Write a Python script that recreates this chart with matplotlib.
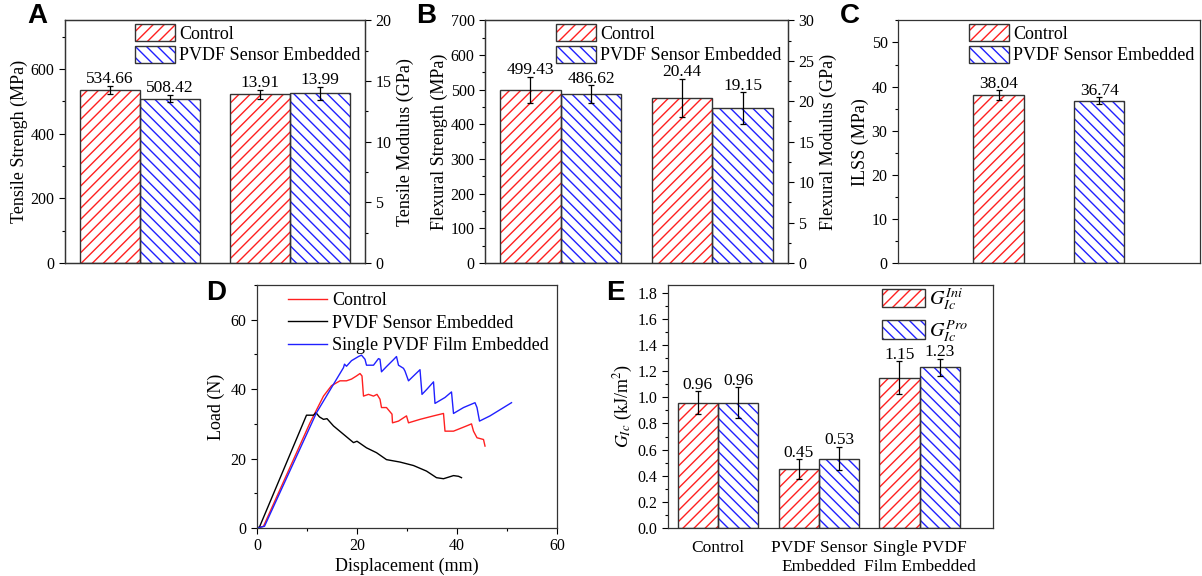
import numpy as np
import matplotlib
matplotlib.use("Agg")
import matplotlib.pyplot as plt
from matplotlib.patches import Patch
from matplotlib.legend_handler import HandlerTuple
from matplotlib.ticker import MultipleLocator

plt.rcParams['font.family'] = ['Liberation Serif', 'DejaVu Serif']
plt.rcParams['mathtext.fontset'] = 'stix'
plt.rcParams['hatch.linewidth'] = 1.0
plt.rcParams['xtick.direction'] = 'out'
plt.rcParams['ytick.direction'] = 'out'

RED = '#ff2020'
BLUE = '#2020ff'
EDGE = '#333333'

# ---- data ----
series_names = ['Control', 'PVDF Sensor Embedded']

tensile_strength = [534.66, 508.42]
tensile_strength_err = [12, 11]
tensile_modulus = [13.91, 13.99]
tensile_modulus_err = [0.35, 0.55]

flex_strength = [499.43, 486.62]
flex_strength_err = [38, 26]
flex_modulus = [20.44, 19.15]
flex_modulus_err = [2.35, 1.95]

ilss = [38.04, 36.74]
ilss_err = [1.1, 0.8]

red_x = [0, 1.3, 10.6, 13.3, 14.9, 16.6, 17.9, 18.9, 19.9, 20.6, 21.0, 21.3, 22.3, 23.3, 24.0,
         24.6, 24.9, 25.9, 27.0, 27.1, 28.3, 29.9, 30.3, 32.6, 35.3, 37.3, 37.6, 39.3, 41.9,
         42.9, 43.3, 44.0, 45.3, 45.6]
red_y = [0, 0.5, 30.3, 38, 41, 42.4, 42.4, 42.9, 43.8, 44.5, 43.8, 38, 38.5, 38, 38.5,
         37.1, 34.7, 34.7, 32.8, 30.3, 30.8, 32.3, 30.3, 31.3, 32.3, 33, 27.9, 27.9, 29.4,
         30, 27.9, 26, 25.5, 23.6]
black_x = [0, 0.5, 9.9, 11.3, 11.8, 12.5, 13.3, 14.0, 15.3, 17.3, 19.3, 20.0, 21.9, 23.9,
           25.9, 28.6, 31.3, 33.9, 35.9, 37.3, 39.3, 40.3, 40.9]
black_y = [0, 0.3, 32.5, 32.5, 33.2, 32, 31.3, 31.5, 29.4, 27, 24.6, 25, 23.1, 21.7,
           19.7, 19, 18, 16.4, 14.5, 14.2, 15.1, 14.9, 14.5]
blue_x = [0, 1.5, 11.9, 15.3, 17.3, 17.5, 17.9, 18.9, 20.3, 20.9, 21.6, 21.9, 23.3, 24.3,
          24.6, 24.9, 25.9, 27.3, 27.9, 28.3, 29.3, 29.6, 30.3, 31.3, 32.6, 33.0, 34.0, 35.3,
          35.6, 37.6, 38.9, 39.3, 41.3, 43.6, 44.0, 44.5, 46.6, 50.9]
blue_y = [0, 0.5, 33.2, 41.4, 46.2, 47.2, 46.6, 48.2, 49.4, 49.8, 48.6, 46.9, 46.9, 48.8,
          48.6, 45, 46.5, 48.5, 49.4, 46.9, 46, 45.2, 42.4, 43.8, 45.6, 38.5, 40, 42.1,
          35.9, 37.6, 39.2, 33, 34.7, 36.1, 34.7, 30.8, 32.3, 36.1]
curve_names = ['Control', 'PVDF Sensor Embedded', 'Single PVDF Film Embedded']

e_groups = ['Control', 'PVDF Sensor\nEmbedded', 'Single PVDF\nFilm Embedded']
g_ini = [0.96, 0.45, 1.15]
g_ini_err = [0.085, 0.075, 0.125]
g_pro = [0.96, 0.53, 1.23]
g_pro_err = [0.117, 0.088, 0.067]

fig = plt.figure(figsize=(12.02, 5.76), dpi=100)


def hbar(ax, x, h, w, color, hatch, err=None):
    ax.bar(x, h, w, color='white', edgecolor=color, hatch=hatch, linewidth=0, zorder=2)
    ax.bar(x, h, w, fill=False, edgecolor=EDGE, linewidth=1.0, zorder=3)
    if err is not None:
        ax.errorbar(x, h, yerr=err, fmt='none', ecolor='black', elinewidth=0.9,
                    capsize=2.5, capthick=0.9, zorder=4)


def label_bars(ax, xs, vals, errs, fmt, size=12.5):
    for x, v, e in zip(xs, vals, errs):
        ax.annotate(fmt.format(v), (x, v + e), xytext=(0, 2), textcoords='offset points',
                    ha='center', va='baseline', fontsize=size)


def style(ax):
    ax.tick_params(axis='x', bottom=False, labelbottom=False)
    ax.tick_params(axis='y', labelsize=11.5, length=4, width=0.8)
    ax.tick_params(axis='y', which='minor', length=2, width=0.8)
    for s in ax.spines.values():
        s.set_linewidth(0.9)
        s.set_color(EDGE)


def pair_handles(color, hatch):
    return (Patch(facecolor='white', edgecolor=color, hatch=hatch, linewidth=0),
            Patch(fill=False, edgecolor=EDGE, linewidth=1))


def legend_two(ax, bbox):
    ax.legend([pair_handles(RED, '///'), pair_handles(BLUE, '\\\\\\')], series_names,
              loc='upper left', bbox_to_anchor=bbox, frameon=False,
              fontsize=13, handlelength=2.2, handleheight=1.1, handletextpad=0.25,
              labelspacing=0.15, borderaxespad=0, borderpad=0.2,
              handler_map={tuple: HandlerTuple(ndivide=1)})


w = 0.4
# ---- A ----
axA = fig.add_axes([0.0541, 0.5434, 0.2496, 0.4212])
hbar(axA, 1 - w / 2, tensile_strength[0], w, RED, '///', tensile_strength_err[0])
hbar(axA, 1 + w / 2, tensile_strength[1], w, BLUE, '\\\\\\', tensile_strength_err[1])
label_bars(axA, [1 - w / 2, 1 + w / 2], tensile_strength, tensile_strength_err, '{:.2f}')
axA.set_xlim(0.5, 2.5)
axA.set_ylim(0, 750)
axA.yaxis.set_major_locator(MultipleLocator(200))
axA.yaxis.set_minor_locator(MultipleLocator(100))
axA.set_ylabel('Tensile Strengh (MPa)', fontsize=13, labelpad=2)
style(axA)
axA2 = axA.twinx()
hbar(axA2, 2 - w / 2, tensile_modulus[0], w, RED, '///', tensile_modulus_err[0])
hbar(axA2, 2 + w / 2, tensile_modulus[1], w, BLUE, '\\\\\\', tensile_modulus_err[1])
label_bars(axA2, [2 - w / 2, 2 + w / 2], tensile_modulus, tensile_modulus_err, '{:.2f}')
axA2.set_ylim(0, 20)
axA2.yaxis.set_major_locator(MultipleLocator(5))
axA2.yaxis.set_minor_locator(MultipleLocator(2.5))
axA2.set_ylabel('Tensile Modulus (GPa)', fontsize=13, labelpad=4)
style(axA2)
legend_two(axA2, (0.221, 1.0))

# ---- B ----
axB = fig.add_axes([0.4035, 0.5434, 0.2521, 0.4212])
hbar(axB, 1 - w / 2, flex_strength[0], w, RED, '///', flex_strength_err[0])
hbar(axB, 1 + w / 2, flex_strength[1], w, BLUE, '\\\\\\', flex_strength_err[1])
label_bars(axB, [1 - w / 2, 1 + w / 2], flex_strength, flex_strength_err, '{:.2f}')
axB.set_xlim(0.5, 2.5)
axB.set_ylim(0, 700)
axB.yaxis.set_major_locator(MultipleLocator(100))
axB.yaxis.set_minor_locator(MultipleLocator(50))
axB.set_ylabel('Flexural Strength (MPa)', fontsize=13, labelpad=2)
style(axB)
axB2 = axB.twinx()
hbar(axB2, 2 - w / 2, flex_modulus[0], w, RED, '///', flex_modulus_err[0])
hbar(axB2, 2 + w / 2, flex_modulus[1], w, BLUE, '\\\\\\', flex_modulus_err[1])
label_bars(axB2, [2 - w / 2, 2 + w / 2], flex_modulus, flex_modulus_err, '{:.2f}')
axB2.set_ylim(0, 30)
axB2.yaxis.set_major_locator(MultipleLocator(5))
axB2.yaxis.set_minor_locator(MultipleLocator(2.5))
axB2.set_ylabel('Flexural Modulus (GPa)', fontsize=13, labelpad=4)
style(axB2)
legend_two(axB2, (0.223, 1.0))

# ---- C ----
axC = fig.add_axes([0.7471, 0.5434, 0.2512, 0.4212])
wc = 0.5
hbar(axC, 1, ilss[0], wc, RED, '///', ilss_err[0])
hbar(axC, 2, ilss[1], wc, BLUE, '\\\\\\', ilss_err[1])
label_bars(axC, [1, 2], ilss, ilss_err, '{:.2f}')
axC.set_xlim(0, 3)
axC.set_ylim(0, 55)
axC.yaxis.set_major_locator(MultipleLocator(10))
axC.yaxis.set_minor_locator(MultipleLocator(5))
axC.set_ylabel('ILSS (MPa)', fontsize=13, labelpad=2)
style(axC)
legend_two(axC, (0.223, 1.0))

# ---- D ----
axD = fig.add_axes([0.2138, 0.0833, 0.2496, 0.4219])
axD.plot(red_x, red_y, color=RED, lw=1.0, label=curve_names[0])
axD.plot(black_x, black_y, color='black', lw=1.0, label=curve_names[1])
axD.plot(blue_x, blue_y, color=BLUE, lw=1.0, label=curve_names[2])
axD.set_xlim(0, 60)
axD.set_ylim(0, 70)
axD.xaxis.set_major_locator(MultipleLocator(20))
axD.xaxis.set_minor_locator(MultipleLocator(10))
axD.yaxis.set_major_locator(MultipleLocator(20))
axD.yaxis.set_minor_locator(MultipleLocator(10))
axD.tick_params(labelsize=11.5, length=4, width=0.8)
axD.tick_params(which='minor', length=2, width=0.8)
for s in axD.spines.values():
    s.set_linewidth(0.9)
    s.set_color(EDGE)
axD.set_xlabel('Displacement (mm)', fontsize=13, labelpad=2)
axD.set_ylabel('Load (N)', fontsize=13, labelpad=4)
axD.legend(loc='upper left', bbox_to_anchor=(0.09, 0.985), frameon=False, fontsize=13,
           handlelength=2.2, handletextpad=0.25, labelspacing=0.3, borderaxespad=0,
           borderpad=0.2)

# ---- E ----
axE = fig.add_axes([0.5555, 0.0833, 0.2707, 0.4219])
xe = np.arange(1, len(e_groups) + 1)
for i in range(len(e_groups)):
    hbar(axE, xe[i] - w / 2, g_ini[i], w, RED, '///', g_ini_err[i])
    hbar(axE, xe[i] + w / 2, g_pro[i], w, BLUE, '\\\\\\', g_pro_err[i])
label_bars(axE, xe - w / 2, g_ini, g_ini_err, '{:.2f}')
label_bars(axE, xe + w / 2, g_pro, g_pro_err, '{:.2f}')
axE.set_xlim(0.5, 3.73)
axE.set_ylim(0, 1.86)
axE.yaxis.set_major_locator(MultipleLocator(0.2))
axE.yaxis.set_minor_locator(MultipleLocator(0.1))
axE.yaxis.set_major_formatter(matplotlib.ticker.FormatStrFormatter('%.1f'))
style(axE)
axE.tick_params(axis='x', bottom=False, labelbottom=True, labelsize=12.5, pad=5)
axE.set_xticks(xe)
axE.set_xticklabels(e_groups, linespacing=1.25)
axE.set_ylabel(r'$G_{Ic}$ (kJ/m$^2$)', fontsize=13, labelpad=2)
axE.legend([pair_handles(RED, '///'), pair_handles(BLUE, '\\\\\\')],
           [r'$G_{Ic}^{Ini}$', r'$G_{Ic}^{Pro}$'], loc='upper right',
           bbox_to_anchor=(0.935, 1.01), frameon=False, fontsize=14.5,
           handlelength=2.1, handleheight=1.05, handletextpad=0.2, labelspacing=0.3,
           borderaxespad=0, borderpad=0.2,
           handler_map={tuple: HandlerTuple(ndivide=1)})

# panel letters
for txt, x, y in [('A', 27, 3), ('B', 416, 3), ('C', 840, 3), ('D', 206, 280), ('E', 606, 280)]:
    fig.text(x / 1202, 1 - y / 576, txt, fontsize=20, fontweight='bold',
             family=['Liberation Sans', 'DejaVu Sans'], ha='left', va='top')

fig.savefig('out.png', dpi=100)
